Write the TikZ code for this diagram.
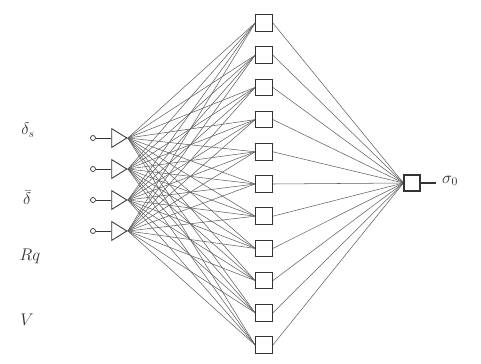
\documentclass[tikz,border=0pt]{standalone}
\usetikzlibrary{backgrounds,shapes.geometric}
\definecolor{ink}{HTML}{333333}
\definecolor{wiregray}{HTML}{5E5E5E}
\tikzset{
  neuron/.style={
    draw=ink,
    fill=white,
    line width=0.9pt,
    minimum size=0.5cm,
    inner sep=0pt
  },
  inunit/.style={
    isosceles triangle,
    isosceles triangle stretches,
    shape border rotate=0,
    draw=ink,
    fill=white,
    line width=0.7pt,
    minimum width=0.56cm,
    minimum height=0.45cm,
    inner sep=0pt
  },
  stub/.style={circle,draw=ink,line width=0.6pt,minimum size=0.15cm,inner sep=0pt},
  wire/.style={draw=wiregray,line width=0.45pt},
  varlabel/.style={font=\Large,text=ink}
}

\begin{document}
\begin{tikzpicture}[x=0.03cm,y=-0.03cm]
  \useasboundingbox (0,0) rectangle (481,363);

  % hidden layer
  \foreach \i in {1,...,11}
    \node[neuron] (hid\i) at (264,{23+(\i-1)*32.2}) {};

  % input units
  \foreach \i/\y in {1/138,2/169,3/200,4/231} {
    \node[inunit] (in\i) at (117,\y) {};
    \node[stub] (stub\i) at (93,\y) {};
    \draw[ink,line width=0.7pt] (stub\i) -- (in\i.west);
  }

  % output unit
  \node[neuron,minimum size=0.48cm] (out) at (412,183) {};
  \coordinate (outend) at (436,183);
  \node[varlabel,anchor=west] (sigma) at (438,181) {$\sigma_0$};
  \draw[ink,line width=0.9pt] (out.east) -- (outend);

  % variable names
  \node[varlabel] (lab1) at (28,130) {$\delta_s$};
  \node[varlabel] (lab2) at (27,198) {$\bar{\delta}$};
  \node[varlabel] (lab3) at (30,256) {$Rq$};
  \node[varlabel] (lab4) at (27,320) {$V$};

  \begin{scope}[on background layer]
    \foreach \i in {1,...,4}
      \foreach \j in {1,...,11}
        \draw[wire] (in\i.apex) -- (hid\j.west);
    \foreach \j in {1,...,11}
      \draw[wire] (hid\j.east) -- (out.west);
  \end{scope}
\end{tikzpicture}
\end{document}
